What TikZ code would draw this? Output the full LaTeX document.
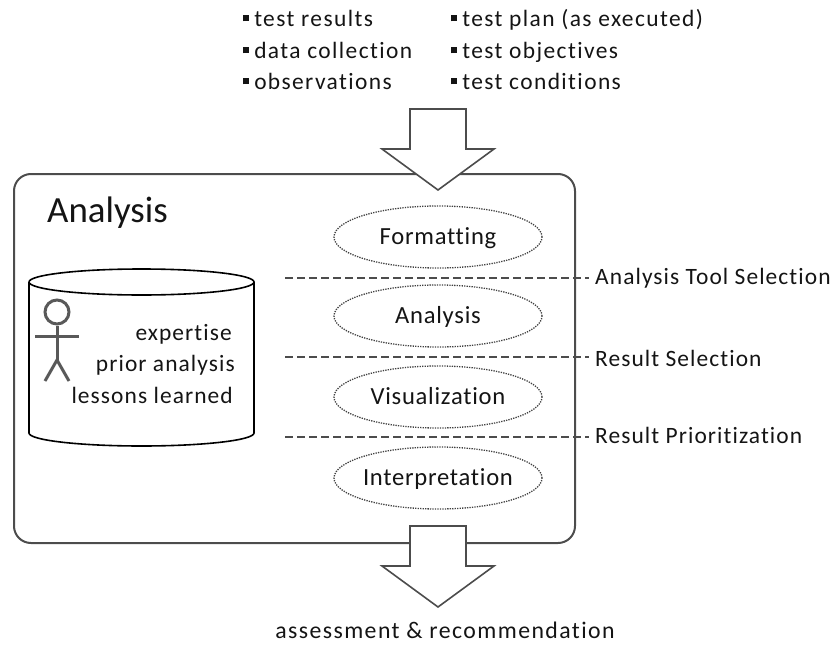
\documentclass[tikz,border=0pt]{standalone}
\usepackage{fontspec}
\setmainfont{Carlito}
\newfontfamily\stepface[LetterSpace=3,Ligatures=NoCommon]{Carlito}
\newfontfamily\sideface[LetterSpace=4.6,Ligatures=NoCommon]{Carlito}
\newfontfamily\listface[LetterSpace=6,Ligatures=NoCommon]{Carlito}
\usepackage{xcolor}
\usetikzlibrary{shapes.geometric}
\newcommand{\myunit}{0.03cm}
\colorlet{linegray}{black!70}
\colorlet{textgray}{black!92}
\tikzset{
    boxsty/.style={draw=linegray,line width=2*\myunit,rounded corners=17*\myunit,minimum width=561*\myunit,minimum height=369*\myunit,anchor=north west},
    arrowsty/.style={draw=linegray,line width=1.6*\myunit,fill=white,line join=miter},
    stepsty/.style={draw=black!75,ellipse,densely dotted,line width=1.3*\myunit,minimum width=208*\myunit,minimum height=62*\myunit,inner sep=0pt,inner xsep=-6pt,text=textgray,text height=15.6pt,text depth=2pt,font=\stepface\fontsize{21}{25}\selectfont},
    cutsty/.style={draw=black!70,line width=1.1*\myunit,dash pattern=on 8*\myunit off 4*\myunit},
    cutlabelsty/.style={anchor=base west,inner sep=0pt,text=textgray,font=\sideface\fontsize{20}{24}\selectfont},
    liststy/.style={anchor=base west,inner sep=0pt,text=textgray,font=\listface\fontsize{20}{24}\selectfont},
    storesty/.style={anchor=base east,inner sep=0pt,text=textgray,font=\sideface\fontsize{20}{24}\selectfont},
    cylsty/.style={draw=black,line width=1.6*\myunit},
    actorsty/.style={draw=black!65,line width=3*\myunit},
}
\newcommand{\sqbl}{\rule[0.2em]{0.25em}{0.25em}\hspace{0.22em}}
% top edge of the shaft, then the shoulder and the tip
\newcommand{\blockarrow}[3]{%
  \draw[arrowsty] (410,#1) -- (466,#1) -- (466,#2) -- (494,#2) -- (438,#3) -- (382,#2) -- (410,#2) -- cycle;}

\begin{document}
\begin{tikzpicture}[x=\myunit,y=-\myunit]
\useasboundingbox (0,0) rectangle (840,645);

\node[boxsty] (box) at (13,173) {};
\blockarrow{109}{149}{190}
\blockarrow{526}{566}{607}

\node[anchor=base west,inner sep=0pt,text=textgray,font=\fontsize{31.5}{36}\selectfont] (title) at (47,222) {Analysis};

\node[liststy] (res) at (243,26) {\sqbl test results};
\node[liststy] (col) at (243,58) {\sqbl data collection};
\node[liststy] (obs) at (243,89) {\sqbl observations};
\node[liststy] (plan) at (451,26) {\sqbl test plan (as executed)};
\node[liststy] (obj) at (451,58) {\sqbl test objectives};
\node[liststy] (cond) at (451,89) {\sqbl test conditions};

\node[stepsty] (fmt) at (438,237) {Formatting};
\node[stepsty] (ana) at (438,316) {Analysis};
\node[stepsty] (vis) at (438,397) {Visualization};
\node[stepsty] (itp) at (438,478) {Interpretation};

\node[cutlabelsty] (toolsel) at (595,284) {Analysis Tool Selection};
\node[cutlabelsty] (ressel) at (595,366) {Result Selection};
\node[cutlabelsty] (respri) at (595,443) {Result Prioritization};

\coordinate (cuta) at (285,278);
\coordinate (cutb) at (285,357);
\coordinate (cutc) at (285,437);
\draw[cutsty] (cuta) -- ([xshift=-6*\myunit]toolsel.west |- cuta);
\draw[cutsty] (cutb) -- ([xshift=-6*\myunit]ressel.west |- cutb);
\draw[cutsty] (cutc) -- ([xshift=-6*\myunit]respri.west |- cutc);

% store
\draw[cylsty] (29,282) arc[x radius=112.5,y radius=13,start angle=180,end angle=-180];
\draw[cylsty] (29,282) -- (29,433) arc[x radius=112.5,y radius=13,start angle=180,end angle=0] -- (254,282);

% actor
\node[actorsty,circle,minimum size=24*\myunit,inner sep=0pt] (head) at (57,312) {};
\coordinate (hip) at (57,360);
\draw[actorsty] (head.south) -- (hip);
\draw[actorsty] (35,336) -- (79,336);
\draw[actorsty] (45,381) -- (hip) -- (69,381);

\node[storesty] (exp) at (232,340) {expertise};
\node[storesty] (pri) at (235,371) {prior analysis};
\node[storesty] (les) at (233,403) {lessons learned};

\node[anchor=base,inner sep=0pt,text=textgray,font=\listface\fontsize{20.3}{24}\selectfont] (out) at (445,638) {assessment \& recommendation};
\end{tikzpicture}
\end{document}
